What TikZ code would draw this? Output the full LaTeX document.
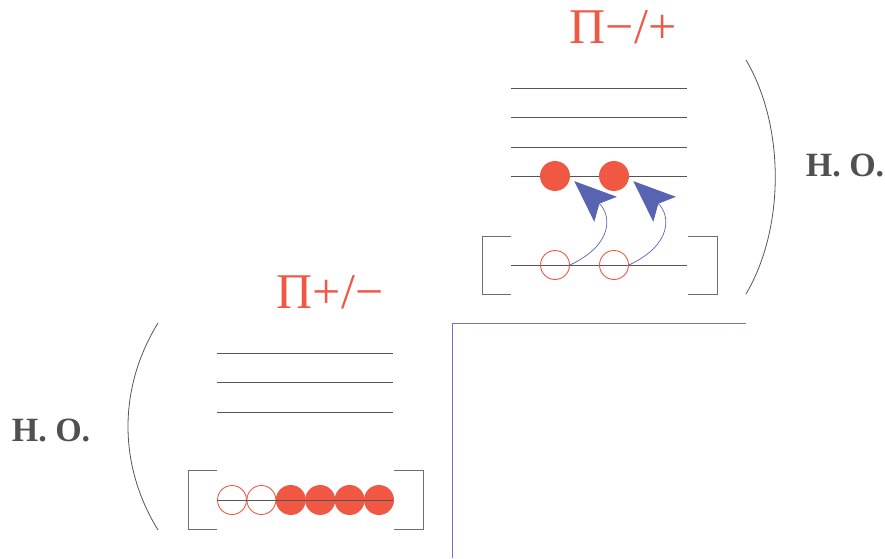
\documentclass[tikz,border=0pt]{standalone}
\usepackage{fontspec}
\setmainfont{Liberation Serif}
\usetikzlibrary{arrows.meta}
\definecolor{cinnabar}{RGB}{240, 88, 68}
\definecolor{indigo}{RGB}{88, 100, 178}
\definecolor{periwinkle}{RGB}{105, 115, 200}
\definecolor{slate}{RGB}{85, 85, 85}
\definecolor{graphite}{RGB}{80, 80, 80}

\tikzset{
  level/.style   = {draw=slate, line width=0.9pt},
  bracket/.style = {draw=slate!85, line width=0.9pt},
  paren/.style   = {draw=slate, line width=0.8pt},
  full/.style    = {circle, minimum size=30pt, inner sep=0pt, outer sep=5pt, fill=cinnabar},
  hollow/.style  = {circle, minimum size=29pt, inner sep=0pt, draw=cinnabar, line width=0.9pt},
  hop/.style     = {draw=indigo, line width=0.7pt, -{Stealth[length=30pt, width=24pt, inset=6pt, scale=1.4]}},
  term/.style    = {text=cinnabar, font=\fontsize{50}{50}\selectfont},
  osc/.style     = {text=graphite, font=\fontsize{34}{34}\selectfont\bfseries},
}

\begin{document}
\begin{tikzpicture}[x=1pt, y=1pt]
            \useasboundingbox (0,0) rectangle (885,558);
            % upper term
            \node[term] (minusplus) at (623,531) {Π−/+};
            \draw[level]  (511,470) -- (687,470);
            \draw[level]  (511,441) -- (687,441);
            \draw[level]  (511,411) -- (687,411);
            \draw[level]  (511,382) -- (687,382);
            \draw[level]  (511,293) -- (687,293);
            \node[full]   (up1) at (555,382) {};
            \node[full]   (up2) at (614,382) {};
            \node[hollow] (lo1) at (555,293) {};
            \node[hollow] (lo2) at (614,293) {};
            \draw[bracket] (511,322) -- (482,322) -- (482,264) -- (511,264);
            \draw[bracket] (688,322) -- (717,322) -- (717,264) -- (688,264);
            \draw[hop] (lo1.east) to[out=25, in=-42, looseness=1.5] (up1.-15);
            \draw[hop] (lo2.east) to[out=25, in=-42, looseness=1.5] (up2.-15);
            \draw[paren] (746,498) .. controls (785,432) and (785,330) .. (746,264);
            \node[osc] (horight) at (845,393) {H. O.};
            % lower term
            \node[term] (plusminus) at (330,266) {Π+/−};
            \draw[level]  (217,205) -- (393,205);
            \draw[level]  (217,176) -- (393,176);
            \draw[level]  (217,146) -- (393,146);
            \node[hollow] (el1) at (232.0,58) {};
            \node[hollow] (el2) at (261.4,58) {};
            \node[full]   (el3) at (290.8,58) {};
            \node[full]   (el4) at (320.2,58) {};
            \node[full]   (el5) at (349.6,58) {};
            \node[full]   (el6) at (379.0,58) {};
            \draw[level]  (217,58) -- (393,58);
            \draw[bracket] (217,88) -- (188,88) -- (188,29) -- (217,29);
            \draw[bracket] (394,88) -- (423,88) -- (423,29) -- (394,29);
            \draw[paren] (158,235) .. controls (118,170) and (118,93) .. (158,28);
            \node[osc] (holeft) at (51,128) {H. O.};
            % divider
            \draw[periwinkle, line width=1pt] (452,0) -- (452,235) -- (746,235);
        \end{tikzpicture}
\end{document}
